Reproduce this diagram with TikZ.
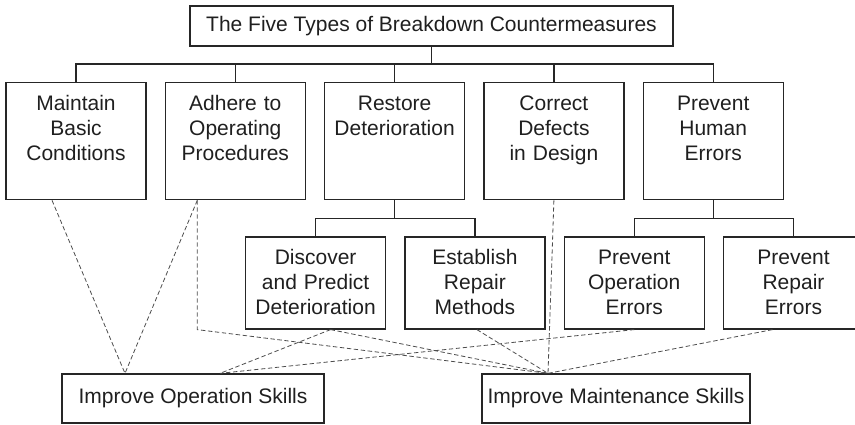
\documentclass[tikz,border=0pt]{standalone}
\usepackage{fontspec}
\setmainfont{Liberation Sans}
\usetikzlibrary{positioning}

\begin{document}
\begin{tikzpicture}[
      font=\fontsize{10.5pt}{12.5pt}\selectfont,
      line width=0.65pt,
      measure/.style={draw=black!85, text=black!88, align=center, inner sep=0pt,
                 text width=70pt, text height=14pt, text depth=44.5pt},
      sub/.style={measure, text depth=32pt},
      skill/.style={draw=black!85, text=black!88, minimum height=24.5pt, inner xsep=0pt},
      tree/.style={black!85},
      link/.style={dashed, dash pattern=on 2.2pt off 1.3pt, line width=0.4pt, black!70},
    ]
    \useasboundingbox (0,0) rectangle (427.5pt,-212pt);
    \clip (0,0) rectangle (427.5pt,-212pt);
    % title box
    \node[draw=black!85, text=black!88, minimum width=241.5pt, minimum height=20pt,
          inner sep=0pt] (title) at (215.75pt,-13pt)
      {The Five Types of Breakdown Countermeasures};
    % five countermeasures
    \node[measure, anchor=north] (maint) at (38pt,-41pt) {Maintain\\Basic\\Conditions};
    \node[measure, right=9pt of maint]   (adhere)  {Adhere to\\Operating\\Procedures};
    \node[measure, right=9pt of adhere]  (restore) {Restore\\Deterioration};
    \node[measure, right=9pt of restore] (correct) {Correct\\Defects\\in Design};
    \node[measure, right=9pt of correct] (human)   {Prevent\\Human\\Errors};
    % second level
    \node[sub, below=18pt of restore, xshift=-39.5pt] (discover)  {Discover\\and Predict\\Deterioration};
    \node[sub, right=9pt of discover]                 (establish) {Establish\\Repair\\Methods};
    \node[sub, below=18pt of human, xshift=-39.5pt]   (operr)     {Prevent\\Operation\\Errors};
    \node[sub, right=9pt of operr]                    (reperr)    {Prevent\\Repair\\Errors};
    % skills
    \node[skill, minimum width=131pt] (opskill) at (96.5pt,-199.25pt) {Improve Operation Skills};
    \node[skill, minimum width=134pt] (mtskill) at (308pt,-199.25pt)  {Improve Maintenance Skills};
    % tree lines
    \draw[tree] (title.south) -- ++(0,-9pt);
    \draw[tree] (maint.north) -- ++(0,9pt) -| (human.north);
    \foreach \n in {adhere,restore,correct}
      \draw[tree] (\n.north) -- ++(0,9pt);
    \draw[tree] (restore.south) -- ++(0,-9pt);
    \draw[tree] (discover.north) -- ++(0,9pt) -| (establish.north);
    \draw[tree] (human.south) -- ++(0,-9pt);
    \draw[tree] (operr.north) -- ++(0,9pt) -| (reperr.north);
    % dashed links to skills
    \coordinate (os1) at ([xshift=-34pt]opskill.north);
    \coordinate (os2) at ([xshift=13.5pt]opskill.north);
    \coordinate (ms)  at ([xshift=-34pt]mtskill.north);
    \coordinate (adh) at ([xshift=-19pt]adhere.south);
    \draw[link] ([xshift=-12pt]maint.south) -- (os1);
    \draw[link] (adh) -- (os1);
    \draw[link] (adh) -- (adh |- discover.south) -- (ms);
    \draw[link] ([xshift=7.5pt]discover.south) -- (os2);
    \draw[link] ([xshift=7.5pt]discover.south) -- (ms);
    \draw[link] ([xshift=1pt]establish.south) -- (ms);
    \draw[link] (correct.south) -- (ms);
    \draw[link] (operr.south) -- (os2);
    \draw[link] ([xshift=-10.5pt]reperr.south) -- (ms);
\end{tikzpicture}
\end{document}
